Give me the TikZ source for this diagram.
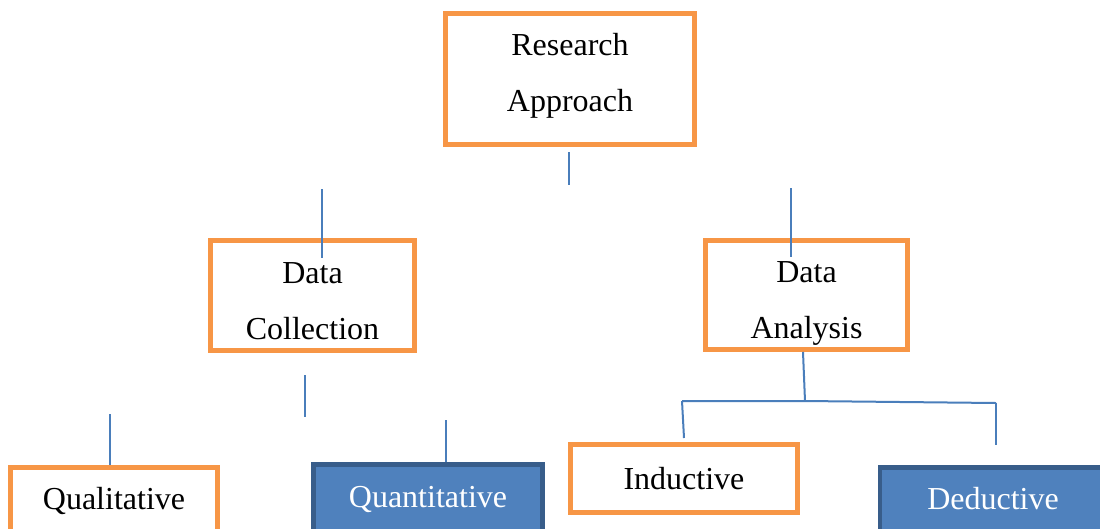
\documentclass[tikz,border=0pt]{standalone}
\usepackage{fontspec}
\setmainfont{Liberation Serif}
\usetikzlibrary{positioning}
\definecolor{approachOrange}{RGB}{247,150,70}
\definecolor{approachBlue}{RGB}{79,129,189}
\definecolor{approachBlueDark}{RGB}{56,93,138}
\definecolor{linkBlue}{RGB}{74,126,187}

\tikzset{
  orangebox/.style={draw=approachOrange, line width=5pt, fill=white, align=center,
    inner sep=0pt, font=\fontsize{32}{56}\selectfont},
  bluebox/.style={draw=approachBlueDark, line width=4.5pt, fill=approachBlue, text=white,
    align=center, inner sep=0pt, font=\fontsize{32}{56}\selectfont},
  link/.style={draw=linkBlue, line width=2pt}
}

\begin{document}
\begin{tikzpicture}[x=1pt, y=-1pt]
  \clip (0,0) rectangle (1100,528);
  \fill[white] (0,0) rectangle (1100,528);

  % boxes
  \node[orangebox, minimum width=249pt, minimum height=131pt, text depth=14pt] (ra) at (570,79) {Research\\Approach};
  \node[orangebox, minimum width=204pt, minimum height=110pt, text depth=0pt] (dc) at (312.5,295.5) {\rule{0pt}{31.5pt}Data\\Collection};
  \node[orangebox, minimum width=202pt, minimum height=109pt, text depth=0pt] (da) at (806.5,295) {\rule{0pt}{31.5pt}Data\\Analysis};
  \node[orangebox, anchor=north, minimum width=207pt, minimum height=90pt, text height=22pt, text depth=28pt] (ql) at (114,464.5) {Qualitative};
  \node[bluebox, anchor=north, minimum width=229pt, minimum height=90pt, text height=22pt, text depth=25pt] (qn) at (428,462) {Quantitative};
  \node[orangebox, minimum width=227pt, minimum height=68pt] (in) at (684,478.5) {Inductive};
  \node[bluebox, anchor=north, minimum width=226pt, minimum height=90pt, text height=22pt, text depth=27.5pt] (de) at (993,465.25) {Deductive};

  % loose stubs
  \coordinate (ra-a) at (569,152);  \coordinate (ra-b) at (569,185);
  \coordinate (dc-a) at (322,189);  \coordinate (dc-b) at (322,258);
  \coordinate (da-a) at (791,188);  \coordinate (da-b) at (791,257);
  \coordinate (dc-c) at (305,375);  \coordinate (dc-d) at (305,417);
  \coordinate (ql-a) at (110,414);
  \coordinate (qn-a) at (446,420);
  \coordinate (da-c) at (805,401);
  \coordinate (fork-l) at (682,401); \coordinate (fork-r) at (996,403);
  \coordinate (in-a) at (684,438);
  \coordinate (de-a) at (996,445);

  \draw[link] (ra-a) -- (ra-b);
  \draw[link] (dc-a) -- (dc-b);
  \draw[link] (da-a) -- (da-b);
  \draw[link] (dc-c) -- (dc-d);
  \draw[link] (ql-a) -- (ql.north -| ql-a);
  \draw[link] (qn-a) -- (qn.north -| qn-a);
  \draw[link] (da.south -| 803,0) -- (da-c);
  \draw[link] (fork-l) -- (da-c) -- (fork-r);
  \draw[link] (fork-l) -- (in-a);
  \draw[link] (fork-r) -- (de-a);
\end{tikzpicture}
\end{document}
